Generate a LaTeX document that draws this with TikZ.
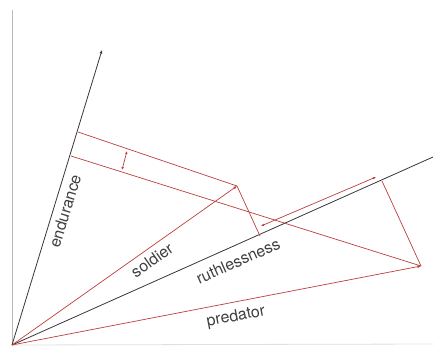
\documentclass[tikz,border=0pt]{standalone}
\usepackage{fontspec}
\setmainfont{TeX Gyre Heros}
\usetikzlibrary{arrows.meta}
\definecolor{vred}{RGB}{188,62,62}
\definecolor{axgray}{RGB}{55,55,55}
\definecolor{framegray}{RGB}{185,185,185}
\begin{document}
\begin{tikzpicture}[x=1pt,y=-1pt,
  axis/.style={draw=axgray,line width=0.8pt},
  vec/.style={draw=vred,line width=0.7pt},
  tip/.style={-{Latex[length=3.5pt,width=3pt]}},
  dtip/.style={{Latex[length=3pt,width=2.6pt]}-{Latex[length=3pt,width=2.6pt]}},
  lbl/.style={font=\fontsize{16}{19}\selectfont,text=black!75,inner sep=0pt}]
\useasboundingbox (0,0) rectangle (433,348);
\fill[white] (0,0) rectangle (433,348);
% points
\coordinate (O) at (12,345);
\coordinate (Etop) at (102,50);
\coordinate (Rend) at (433,157);
\coordinate (S) at (237,186);
\coordinate (P) at (421,266);
\coordinate (A1) at (78,132);
\coordinate (A2) at (71,156);
\coordinate (B1) at (260,236);
\coordinate (B2) at (382,181);
\coordinate (D1) at (127,151);
\coordinate (D2) at (122,170);
\coordinate (F1) at (261,226);
\coordinate (F2) at (376,177);
\coordinate (Ltop) at (12,10);
\coordinate (Bend) at (433,344);
% frame
\draw[framegray,line width=0.8pt] (Ltop) -- (O);
\draw[black!12,line width=0.8pt] (O) -- (Bend);
% axes
\draw[axis,tip] (O) -- (Etop);
\draw[axis] (O) -- (Rend);
% vectors
\draw[vec,tip] (O) -- (S);
\draw[vec,tip] (O) -- (P);
% projections
\draw[vec] (A1) -- (S);
\draw[vec] (A2) -- (P);
\draw[vec] (S) -- (B1);
\draw[vec] (P) -- (B2);
\draw[vec,dtip] (D1) -- (D2);
\draw[vec,dtip] (F1) -- (F2);
% labels
\node[lbl,rotate=73] (le) at (65,211) {endurance};
\node[lbl,rotate=35] (ls) at (152,260) {soldier};
\node[lbl,rotate=24] (lr) at (238,261) {ruthlessness};
\node[lbl,rotate=11] (lp) at (236,317) {predator};
\end{tikzpicture}
\end{document}
